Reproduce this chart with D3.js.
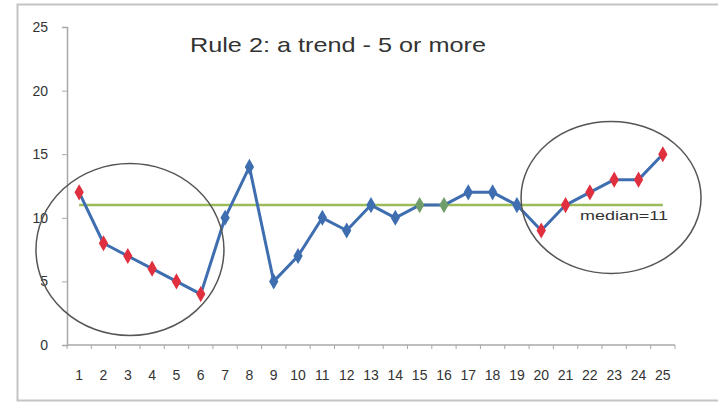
<!DOCTYPE html>
<html>
<head>
<meta charset="utf-8">
<script src="https://cdn.jsdelivr.net/npm/d3@7"></script>
<style>
  html, body { margin: 0; padding: 0; background: #fff; }
  svg { display: block; }
</style>
</head>
<body>
<svg id="chart" width="718" height="405"></svg>
<script>
// Run chart data
const categories = d3.range(1, 26);
const values = [12, 8, 7, 6, 5, 4, 10, 14, 5, 7, 10, 9, 11, 10, 11, 11, 12, 12, 11, 9, 11, 12, 13, 13, 15];
const trendPoints = [1, 2, 3, 4, 5, 6, 20, 21, 22, 23, 24, 25];
const onMedianPoints = [15, 16];
const median = 11;
const yTicks = [0, 5, 10, 15, 20, 25];
const title = "Rule 2: a trend - 5 or more";
const medianLabel = "median=11";

const svg = d3.select("#chart");
const plot = { left: 67, right: 675, top: 27, bottom: 345 };
const font = "Liberation Sans, Arial, sans-serif";

// Outer chart frame
svg.append("rect")
  .attr("x", 17.5).attr("y", 4.5)
  .attr("width", 720).attr("height", 396)
  .attr("fill", "#fff")
  .attr("stroke", "#c4c4c4").attr("stroke-width", 2);

const x = d3.scaleBand().domain(categories).range([plot.left, plot.right]);
const y = d3.scaleLinear().domain([0, 25]).range([plot.bottom, plot.top]);
const cx = d => x(d) + x.bandwidth() / 2;

// Y axis
const yAxis = svg.append("g")
  .attr("transform", `translate(${plot.left},0)`)
  .call(d3.axisLeft(y).tickValues(yTicks).tickSize(5).tickPadding(14));
yAxis.select(".domain").attr("stroke", "#a8a8a8").attr("stroke-width", 1.5);
yAxis.selectAll(".tick line").attr("stroke", "#a8a8a8");
yAxis.selectAll("text")
  .attr("font-family", font)
  .attr("font-size", 14).attr("fill", "#333");

// X axis: ticks sit between categories
const xAxisG = svg.append("g").attr("transform", `translate(0,${plot.bottom})`);
xAxisG.append("line")
  .attr("x1", plot.left).attr("x2", plot.right)
  .attr("stroke", "#a8a8a8").attr("stroke-width", 1.5);
xAxisG.selectAll("line.tk")
  .data(categories.concat([26]))
  .join("line").attr("class", "tk")
  .attr("x1", d => d <= 25 ? x(d) : plot.right)
  .attr("x2", d => d <= 25 ? x(d) : plot.right)
  .attr("y1", 0).attr("y2", 4)
  .attr("stroke", "#a8a8a8");
xAxisG.selectAll("text")
  .data(categories)
  .join("text")
  .attr("x", cx).attr("y", 35)
  .attr("text-anchor", "middle")
  .attr("font-family", font)
  .attr("font-size", 14).attr("fill", "#333")
  .text(d => d);

// Title
svg.append("text")
  .attr("x", 190).attr("y", 52)
  .attr("font-family", font)
  .attr("font-size", 21).attr("fill", "#333")
  .attr("textLength", 296).attr("lengthAdjust", "spacingAndGlyphs")
  .text(title);

// Median line
svg.append("line")
  .attr("x1", cx(1)).attr("x2", cx(25))
  .attr("y1", y(median)).attr("y2", y(median))
  .attr("stroke", "#9bbb59").attr("stroke-width", 2.5);

svg.append("text")
  .attr("x", 580).attr("y", 220)
  .attr("font-family", font)
  .attr("font-size", 13).attr("fill", "#333")
  .attr("textLength", 88).attr("lengthAdjust", "spacingAndGlyphs")
  .text(medianLabel);

// Data line
const line = d3.line().x((d, i) => cx(categories[i])).y(d => y(d));
svg.append("path")
  .datum(values)
  .attr("d", line)
  .attr("fill", "none")
  .attr("stroke", "#3e6eb0").attr("stroke-width", 3)
  .attr("stroke-linejoin", "round");

// Markers
const diamond = d3.symbol().type(d3.symbolDiamond).size(75);
svg.selectAll("path.mk")
  .data(categories)
  .join("path").attr("class", "mk")
  .attr("transform", (d, i) => `translate(${cx(d)},${y(values[i])})`)
  .attr("d", diamond)
  .attr("fill", d => trendPoints.includes(d) ? "#e0303f"
                    : onMedianPoints.includes(d) ? "#6f9e6a" : "#3e6eb0");

// Circles marking the two trend runs
const runs = [
  { from: 1, to: 6, shift: -10, level: 7.5, rx: 94, ry: 86 },
  { from: 20, to: 25, shift: 9, level: 11.6, rx: 90, ry: 76 }
];
svg.selectAll("ellipse.run")
  .data(runs)
  .join("ellipse").attr("class", "run")
  .attr("cx", r => (cx(r.from) + cx(r.to)) / 2 + r.shift)
  .attr("cy", r => y(r.level))
  .attr("rx", r => r.rx).attr("ry", r => r.ry)
  .attr("fill", "none").attr("stroke", "#555").attr("stroke-width", 1.5);
</script>
</body>
</html>
